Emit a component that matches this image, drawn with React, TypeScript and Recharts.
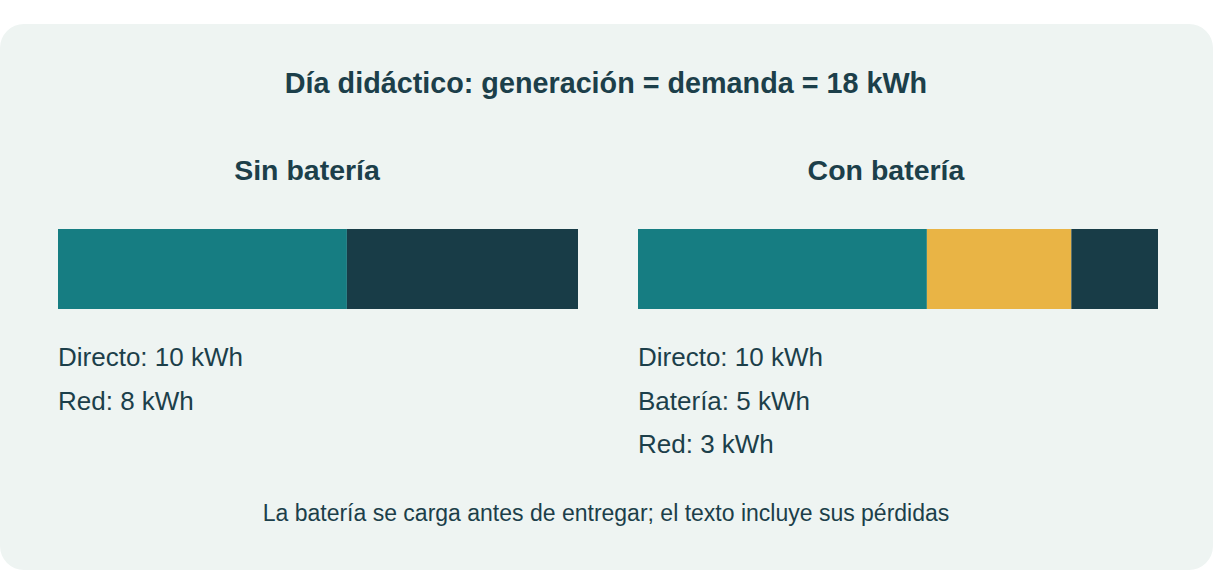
import React from "react";
import { BarChart, Bar, XAxis, YAxis } from "recharts";

const title = "Día didáctico: generación = demanda = 18 kWh";
const footnote = "La batería se carga antes de entregar; el texto incluye sus pérdidas";
const panelTitles = ["Sin batería", "Con batería"];
const segmentKeys = ["directo", "bateria", "red"];
const segmentNames = ["Directo", "Batería", "Red"];
const segmentColors = ["#167d82", "#e9b445", "#183c47"];
const sinBateriaValues = [10, 0, 8];
const conBateriaValues = [10, 5, 3];
const totalKWh = 18;

const FONT = '"Liberation Sans", Arial, Helvetica, sans-serif';
const TEXT = "#1c3f4a";

function buildRow(name: string, values: number[]) {
  const row: Record<string, string | number> = { name };
  segmentKeys.forEach((k, i) => {
    row[k] = values[i];
  });
  return [row];
}

function labelsFor(values: number[]) {
  return segmentNames
    .map((n, i) => ({ n, v: values[i] }))
    .filter((d) => d.v > 0)
    .map((d) => `${d.n}: ${d.v} kWh`);
}

function Panel({
  name,
  values,
  left,
  titleX,
}: {
  name: string;
  values: number[];
  left: number;
  titleX: number;
}) {
  const data = buildRow(name, values);
  const labels = labelsFor(values);
  return (
    <>
      <div style={{ position: "absolute", left, top: 229 }}>
        <BarChart
          width={520}
          height={80}
          data={data}
          layout="vertical"
          margin={{ top: 0, right: 0, bottom: 0, left: 0 }}
          barCategoryGap={0}
        >
          <XAxis type="number" domain={[0, totalKWh]} hide />
          <YAxis type="category" dataKey="name" hide />
          {segmentKeys.map((k, i) =>
            values[i] > 0 ? (
              <Bar
                key={k}
                dataKey={k}
                stackId="s"
                fill={segmentColors[i]}
                isAnimationActive={false}
              />
            ) : null
          )}
        </BarChart>
      </div>
      <svg
        width={1213}
        height={570}
        style={{ position: "absolute", left: 0, top: 0, pointerEvents: "none" }}
      >
        <text
          x={titleX}
          y={180}
          textAnchor="middle"
          fontFamily={FONT}
          fontWeight="bold"
          fontSize={28.5}
          fill={TEXT}
        >
          {name}
        </text>
        {labels.map((l, i) => (
          <text
            key={l}
            x={left}
            y={366 + i * 43.5}
            fontFamily={FONT}
            fontSize={26}
            fill={TEXT}
          >
            {l}
          </text>
        ))}
      </svg>
    </>
  );
}

export default function App() {
  return (
    <div style={{ position: "absolute", left: 0, top: 0, width: 1213, height: 570, background: "#ffffff", fontFamily: FONT }}>
      <div
        style={{
          position: "absolute",
          left: 0,
          top: 24,
          width: 1213,
          height: 546,
          borderRadius: 24,
          background: "#eef4f2",
        }}
      />
      <svg width={1213} height={570} style={{ position: "absolute", left: 0, top: 0 }}>
        <text x={606} y={93} textAnchor="middle" fontFamily={FONT} fontWeight="bold" fontSize={28.75} fill={TEXT}>
          {title}
        </text>
        <text x={606} y={521} textAnchor="middle" fontFamily={FONT} fontSize={23} fill={TEXT}>
          {footnote}
        </text>
      </svg>
      <Panel name={panelTitles[0]} values={sinBateriaValues} left={58} titleX={307} />
      <Panel name={panelTitles[1]} values={conBateriaValues} left={638} titleX={886} />
    </div>
  );
}
